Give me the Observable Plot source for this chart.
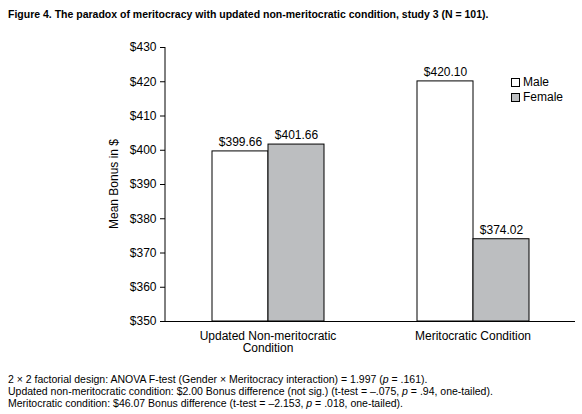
<!DOCTYPE html>
<html><head><meta charset="utf-8">
<script src="https://cdn.jsdelivr.net/npm/d3@7"></script>
<script src="https://cdn.jsdelivr.net/npm/@observablehq/plot@0.6"></script>
<style>
body{margin:0;font-family:"Liberation Sans",Arial,sans-serif;background:#fff;}
#wrap{position:relative;width:582px;height:414px;}
#title{position:absolute;left:8px;top:8px;font-size:10.5px;font-weight:bold;}
#chart{position:absolute;left:0;top:28px;}
#cap{position:absolute;left:8px;top:373px;font-size:10.5px;line-height:12px;}
.leg{position:absolute;left:511px;font-size:12px;display:flex;align-items:center;}
.leg span{display:inline-block;width:7px;height:7px;border:1px solid #000;margin-right:3px;}
</style></head><body>
<div id="wrap">
<div id="title">Figure 4. The paradox of meritocracy with updated non-meritocratic condition, study 3 (N = 101).</div>
<div id="chart"></div>
<div class="leg" style="top:75px"><span style="background:#fff"></span>Male</div>
<div class="leg" style="top:90px"><span style="background:#bcbec0"></span>Female</div>
<div id="cap">2 × 2 factorial design: ANOVA F-test (Gender × Meritocracy interaction) = 1.997 (<i>p</i> = .161).<br>
Updated non-meritocratic condition: $2.00 Bonus difference (not sig.) (t-test = –.075, <i>p</i> = .94, one-tailed).<br>
Meritocratic condition: $46.07 Bonus difference (t-test = –2.153, <i>p</i> = .018, one-tailed).</div>
</div>
<script>
const conditions = ["Updated Non-meritocratic Condition", "Meritocratic Condition"];
const genders = ["Male", "Female"];
const male = [399.66, 420.10];
const female = [401.66, 374.02];
const colors = ["#ffffff", "#bcbec0"];
const yTicks = [350,360,370,380,390,400,410,420,430];

const data = [];
conditions.forEach((c,i)=>{data.push({c,g:"Male",v:male[i]});data.push({c,g:"Female",v:female[i]});});

const plot = Plot.plot({
  width:582, height:335,
  marginLeft:165, marginRight:7, marginTop:19, marginBottom:42,
  style:{fontFamily:"Liberation Sans, Arial, sans-serif", fontSize:"12px", color:"#000"},
  fx:{domain:conditions, padding:0, label:null, tickSize:0, tickPadding:10,
      tickFormat:d=>d==="Updated Non-meritocratic Condition"?"Updated Non-meritocratic\nCondition":d},
  x:{domain:genders, axis:null, paddingOuter:0.8, paddingInner:0},
  y:{domain:[350,430], ticks:yTicks, tickFormat:d=>"$"+d, label:null, tickSize:5},
  color:{domain:genders, range:colors},
  marks:[
    Plot.barY(data,{fx:"c",x:"g",y1:350,y2:"v",fill:"g",stroke:"#000",strokeWidth:1}),
    Plot.text(data,{fx:"c",x:"g",y:"v",text:d=>"$"+d.v.toFixed(2),dy:-9,fontSize:12}),
    Plot.ruleY([350],{stroke:"#000"})
  ]
});
document.getElementById("chart").appendChild(plot);
const y = plot.scale("y");
const svg = d3.select(plot);
svg.append("line").attr("x1",165).attr("x2",165)
  .attr("y1",y.apply(430)).attr("y2",y.apply(350)).attr("stroke","#000");
svg.append("text").attr("transform",`translate(118,${(y.apply(430)+y.apply(350))/2}) rotate(-90)`)
  .attr("text-anchor","middle").attr("font-size",12).text("Mean Bonus in $");
</script>
</body></html>
